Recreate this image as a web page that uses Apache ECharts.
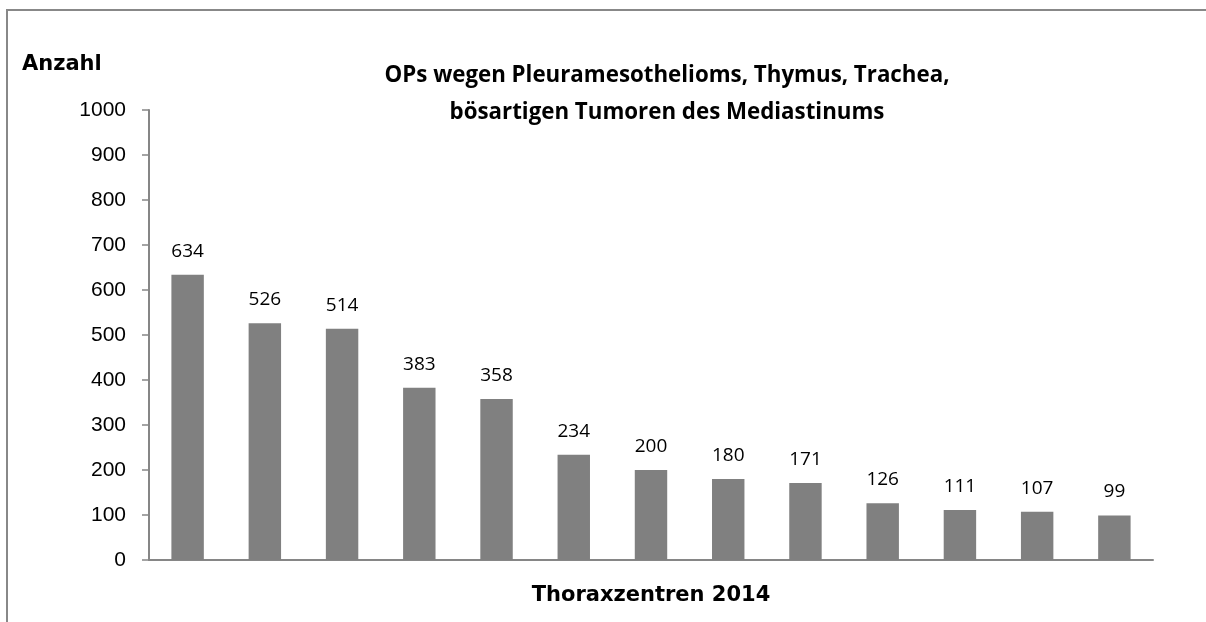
<!DOCTYPE html>
<html><head><meta charset="utf-8">
<script src="https://cdn.jsdelivr.net/npm/echarts@6/dist/echarts.min.js"></script>
<style>html,body{margin:0;padding:0;background:#fff}#c{width:1206px;height:622px}</style>
</head><body><div id="c"></div>
<script>
const categories = ["Z1","Z2","Z3","Z4","Z5","Z6","Z7","Z8","Z9","Z10","Z11","Z12","Z13"];
const values = [634, 526, 514, 383, 358, 234, 200, 180, 171, 126, 111, 107, 99];
const yTicks = [0, 100, 200, 300, 400, 500, 600, 700, 800, 900, 1000];
const titleLines = ["OPs wegen Pleuramesothelioms, Thymus, Trachea,", "bösartigen Tumoren des Mediastinums"];
const yName = "Anzahl";
const xName = "Thoraxzentren 2014";

const chart = echarts.init(document.getElementById('c'));
chart.setOption({
  animation: false,
  title: {
    text: titleLines.join('\n'),
    left: 662, top: 52, textAlign: 'center',
    textStyle: {fontFamily: 'Open Sans', fontWeight: 'bold', fontSize: 22.3, color: '#000', lineHeight: 37}
  },
  graphic: [
    {type: 'polyline', shape: {points: [[7, 622], [7, 10], [1206, 10]]}, style: {stroke: '#888', lineWidth: 2, fill: null}},
    {type: 'text', left: 22, top: 54, style: {text: yName, fontFamily: 'DejaVu Sans', fontWeight: 'bold', fontSize: 21, fill: '#000'}}
  ],
  grid: {left: 149, right: 53, top: 110, bottom: 62},
  xAxis: {
    type: 'category', data: categories,
    name: xName, nameLocation: 'middle', nameGap: 25,
    nameTextStyle: {fontFamily: 'DejaVu Sans', fontWeight: 'bold', fontSize: 21, color: '#000'},
    axisLine: {lineStyle: {color: '#868686', width: 2}},
    axisTick: {show: false},
    axisLabel: {show: false}
  },
  yAxis: {
    type: 'value', min: yTicks[0], max: yTicks[yTicks.length - 1], interval: 100,
    axisLine: {show: true, lineStyle: {color: '#868686', width: 2}},
    axisTick: {show: true, length: 7, lineStyle: {color: '#868686', width: 1.5}},
    splitLine: {show: false},
    axisLabel: {fontFamily: 'Liberation Sans', fontSize: 21, color: '#000', margin: 23, formatter: v => String(v)}
  },
  series: [{
    type: 'bar', data: values, barWidth: '42%',
    itemStyle: {color: '#808080'},
    label: {show: true, position: 'top', distance: 14, fontFamily: 'Open Sans', fontSize: 19, color: '#000'}
  }]
});
</script></body></html>
